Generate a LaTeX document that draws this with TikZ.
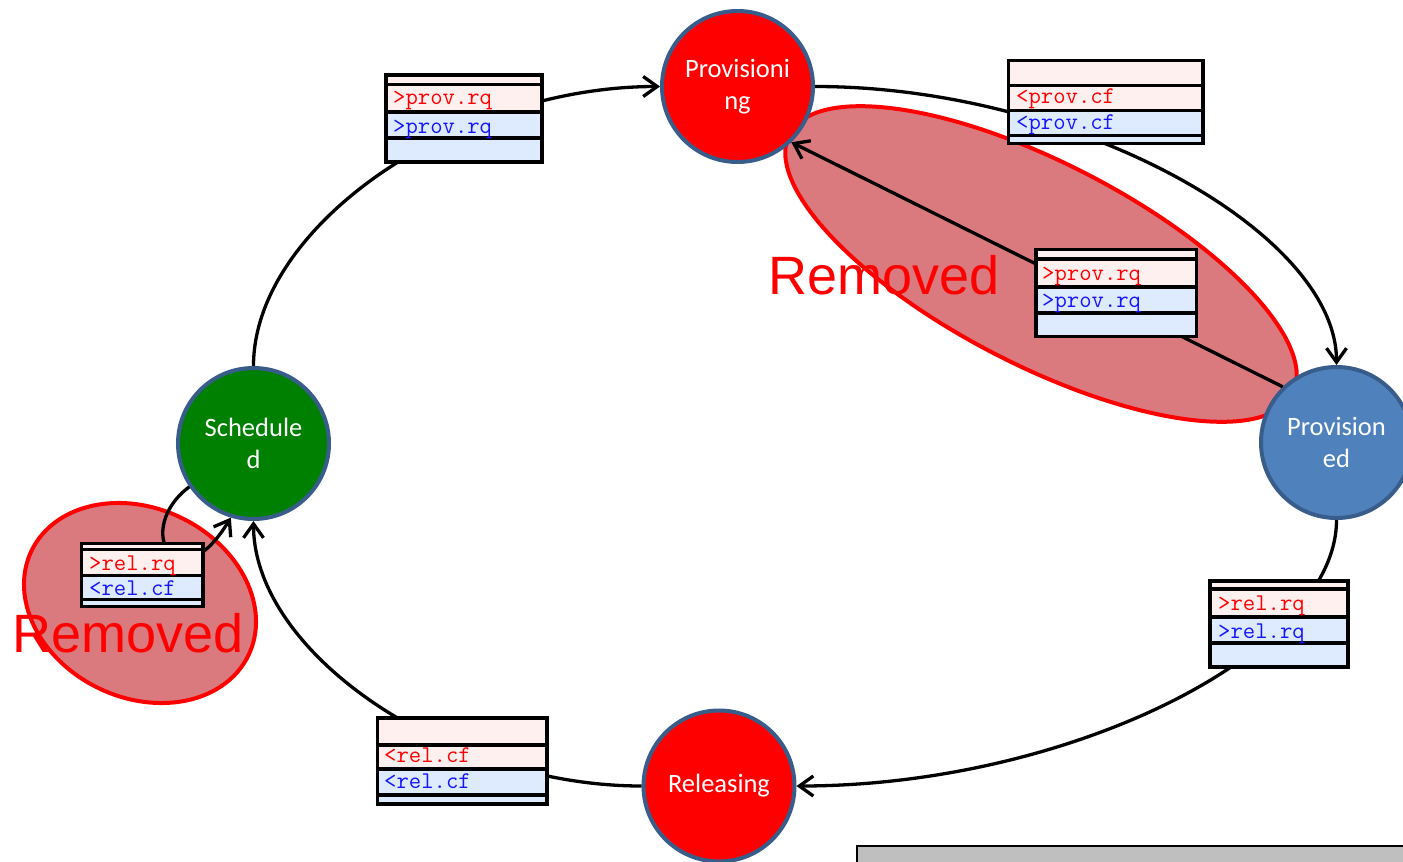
\documentclass[tikz,border=0pt]{standalone}
\usepackage{fontspec}
\setmainfont{Carlito}
\newfontfamily\arialf{Liberation Sans}
\usetikzlibrary{arrows.meta}
\definecolor{ringblue}{RGB}{56,93,138}
\definecolor{provdblue}{RGB}{79,129,189}
\definecolor{schgreen}{RGB}{0,128,0}
\definecolor{remfill}{RGB}{218,121,126}
\definecolor{rowpink}{RGB}{255,240,240}
\definecolor{rowblue}{RGB}{222,235,255}
\definecolor{boxgray}{RGB}{191,191,191}
\definecolor{txtblue}{RGB}{20,20,255}
\begin{document}
\begin{tikzpicture}[x=1pt,y=-1pt,
  state/.style={circle, draw=ringblue, line width=4pt, minimum size=151pt, inner sep=0pt,
    text=white, align=center, font=\fontsize{26.5}{32}\selectfont},
  conn/.style={line width=3.3pt, -{Straight Barb[length=14pt,width=20pt]}},
  remell/.style={draw=red, fill=remfill, line width=4pt},
  remtext/.style={text=red, font=\arialf\fontsize{54}{60}\selectfont, anchor=base west, inner sep=0pt},
  rtxt/.style={text=red, font=\ttfamily\fontsize{24}{26}\selectfont, anchor=base west, inner sep=0pt},
  btxt/.style={text=txtblue, font=\ttfamily\fontsize{24}{26}\selectfont, anchor=base west, inner sep=0pt},
  tframe/.style={draw, line width=3.5pt, anchor=north west, inner sep=0pt, outer sep=0pt},
  tsep/.style={line width=3.5pt},
  pinkrow/.style={fill=rowpink},
  bluerow/.style={fill=rowblue}]
\useasboundingbox (0,0) rectangle (1403,862);
\clip (0,0) rectangle (1403,862);

% gray box
\node[draw, fill=boxgray, line width=2pt, anchor=north west, minimum width=600pt, minimum height=60pt, inner sep=0pt, outer sep=0pt] (gbox) at (857,846) {};

% removed ellipses
\path[remell, rotate around={-27.3:(1041,264)}] (1041,264) ellipse (283 and 101);
\path[remell, rotate around={-25.7:(140,603)}] (140,603) ellipse (120.4 and 94.7);

% states
\node[state, fill=red] (prov) at (737.5,86.5) {Provisioni\\ng};
\node[state, fill=provdblue] (provd) at (1336.5,442.5) {Provision\\ed};
\node[state, fill=red] (rel) at (719,786) {Releasing};
\node[state, fill=schgreen] (sch) at (253.5,443.5) {Schedule\\d};

% connectors
\draw[conn] (sch.north) .. controls (253.5,226.5) and (456.5,86.5) .. (prov.west);
\draw[conn] (prov.east) .. controls (1075,86.5) and (1336.5,232) .. (provd.north);
\draw[conn] (provd.134) -- (prov.-46);
\draw[conn] (provd.south) .. controls (1336.5,653.5) and (1066.75,786) .. (rel.east);
\draw[conn] (rel.west) .. controls (447.5,786) and (253.5,653) .. (sch.south);
\draw[conn] (sch.214) .. controls (132,530) and (178,605) .. (sch.253);

% table 1
\path[pinkrow] (386,75) rectangle (542,112);
\path[bluerow] (386,112) rectangle (542,162);
\draw[tsep] (386,84.5) -- (542,84.5) (386,112) -- (542,112) (386,138) -- (542,138);
\node[rtxt] (t1a) at (393,104) {>prov.rq};
\node[btxt] (t1b) at (393,133) {>prov.rq};
\node[tframe, minimum width=156pt, minimum height=87pt] (t1) at (386,75) {};

% table 2
\path[pinkrow] (1008.5,60.5) rectangle (1203,110.5);
\path[bluerow] (1008.5,110.5) rectangle (1203,143.5);
\draw[tsep] (1008.5,85.5) -- (1203,85.5) (1008.5,110.5) -- (1203,110.5) (1008.5,135.5) -- (1203,135.5);
\node[rtxt] (t2a) at (1016,103.5) {<prov.cf};
\node[btxt] (t2b) at (1016,129) {<prov.cf};
\node[tframe, minimum width=194.5pt, minimum height=83pt] (t2) at (1008.5,60.5) {};

% table 3
\path[pinkrow] (1036,249.5) rectangle (1196.5,287);
\path[bluerow] (1036,287) rectangle (1196.5,336.5);
\draw[tsep] (1036,259) -- (1196.5,259) (1036,287) -- (1196.5,287) (1036,313) -- (1196.5,313);
\node[rtxt] (t3a) at (1042,280) {>prov.rq};
\node[btxt] (t3b) at (1042,307.5) {>prov.rq};
\node[tframe, minimum width=160.5pt, minimum height=87pt] (t3) at (1036,249.5) {};

% table 4
\path[pinkrow] (1210,581) rectangle (1348,617);
\path[bluerow] (1210,617) rectangle (1348,667);
\draw[tsep] (1210,589) -- (1348,589) (1210,617) -- (1348,617) (1210,643) -- (1348,643);
\node[rtxt] (t4a) at (1218,610) {>rel.rq};
\node[btxt] (t4b) at (1218,638) {>rel.rq};
\node[tframe, minimum width=138pt, minimum height=86pt] (t4) at (1210,581) {};

% table 5
\path[pinkrow] (377.5,718) rectangle (547,769);
\path[bluerow] (377.5,769) rectangle (547,804);
\draw[tsep] (377.5,745) -- (547,745) (377.5,769) -- (547,769) (377.5,795) -- (547,795);
\node[rtxt] (t5a) at (384,762) {<rel.cf};
\node[btxt] (t5b) at (384,788) {<rel.cf};
\node[tframe, minimum width=169.5pt, minimum height=86pt] (t5) at (377.5,718) {};

% table 6
\path[pinkrow] (81.5,543.5) rectangle (203,575.5);
\path[bluerow] (81.5,575.5) rectangle (203,606.5);
\draw[tsep] (81.5,549.5) -- (203,549.5) (81.5,575.5) -- (203,575.5) (81.5,599.5) -- (203,599.5);
\node[rtxt] (t6a) at (89,570) {>rel.rq};
\node[btxt] (t6b) at (89,595) {<rel.cf};
\node[tframe, minimum width=121.5pt, minimum height=63pt] (t6) at (81.5,543.5) {};

% labels
\node[remtext] (rem1) at (768,294) {Removed};
\node[remtext] (rem2) at (12,652) {Removed};
\end{tikzpicture}
\end{document}
